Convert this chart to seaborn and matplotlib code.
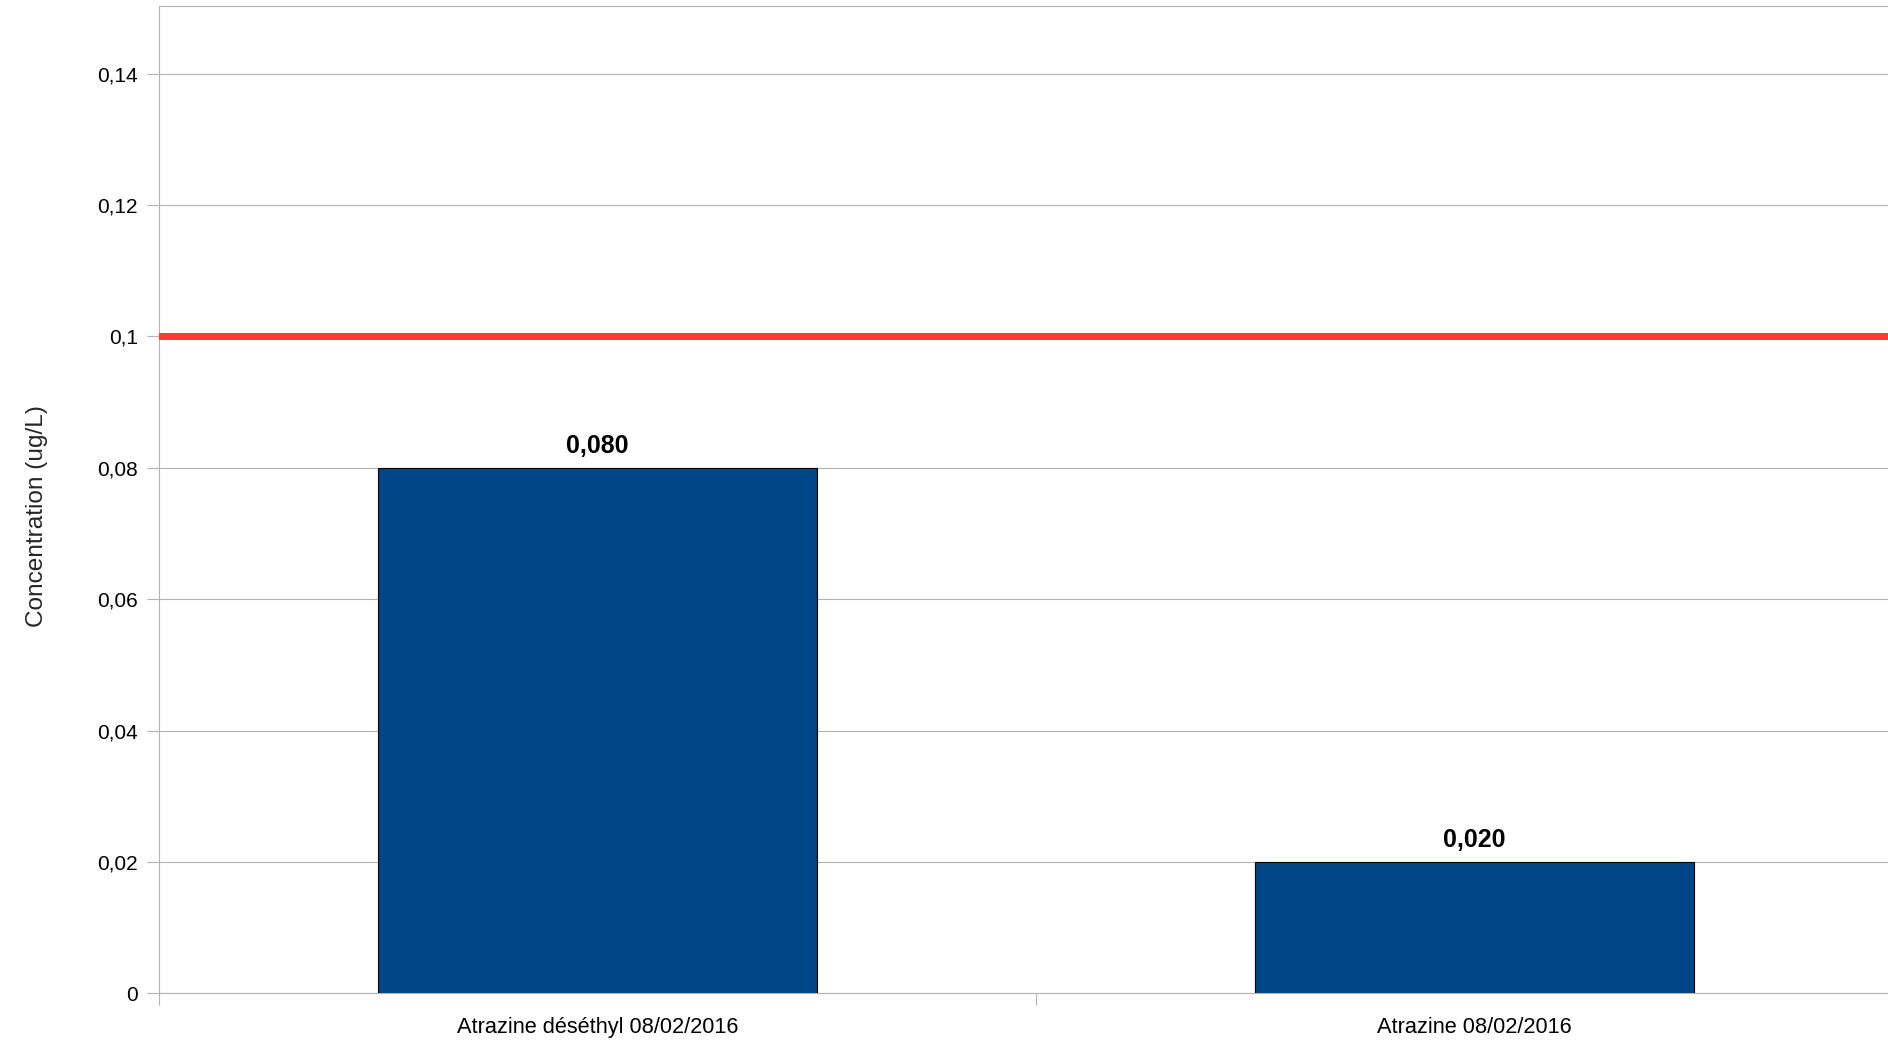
import numpy as np
import pandas as pd
import matplotlib
matplotlib.use("Agg")
import matplotlib.pyplot as plt
import seaborn as sns

sns.set_style("white")
plt.rcParams['font.family'] = ['Liberation Sans', 'DejaVu Sans']

# Data
categories = ["Atrazine déséthyl 08/02/2016", "Atrazine 08/02/2016"]
concentrations = [0.080, 0.020]
limit = 0.1
y_ticks = [0, 0.02, 0.04, 0.06, 0.08, 0.1, 0.12, 0.14]

df = pd.DataFrame({"substance": categories, "concentration": concentrations})

fig = plt.figure(figsize=(18.88, 10.42), dpi=100)
ax = fig.add_axes([159 / 1888, 48.6 / 1042, 1754 / 1888, 987.5 / 1042])

sns.barplot(data=df, x="substance", y="concentration", color="#004586",
            saturation=1, width=0.5, edgecolor="black", linewidth=0.8, ax=ax)

# limit line
ax.axhline(limit, color="#ff3838", linewidth=5, zorder=3)

ax.set_xlim(-0.5, len(categories) - 0.5)
ax.set_ylim(0, 0.1503)
ax.set_yticks(y_ticks)
ax.set_yticklabels([f"{v:g}".replace(".", ",") for v in y_ticks])
ax.yaxis.grid(True, color="#b3b3b3", linewidth=0.8)
ax.set_axisbelow(True)

# value labels
for i, v in enumerate(concentrations):
    ax.annotate(f"{v:.3f}".replace(".", ","), (i, v), xytext=(0, 15.5),
                textcoords="offset points", ha="center", va="center",
                fontsize=18, fontweight="bold", color="black")

# spines and ticks
for side in ["left", "top", "bottom"]:
    ax.spines[side].set_color("#b3b3b3")
    ax.spines[side].set_linewidth(0.8)
ax.spines["right"].set_visible(False)

ax.tick_params(axis="y", which="major", left=True, length=8.6, width=0.8,
               color="#b3b3b3", pad=6.5, labelsize=15, labelcolor="black")
ax.tick_params(axis="x", which="major", length=0, pad=17, labelsize=15.7,
               labelcolor="black")
ax.set_xticks(np.arange(-0.5, len(categories)), minor=True)
ax.tick_params(axis="x", which="minor", bottom=True, length=8.6, width=0.8,
               color="#b3b3b3")

ax.set_xlabel("")
ax.set_ylabel("Concentration (ug/L)", fontsize=17.6)
ax.yaxis.set_label_coords(-0.063, 0.483)

plt.savefig("out.png", dpi=100)
